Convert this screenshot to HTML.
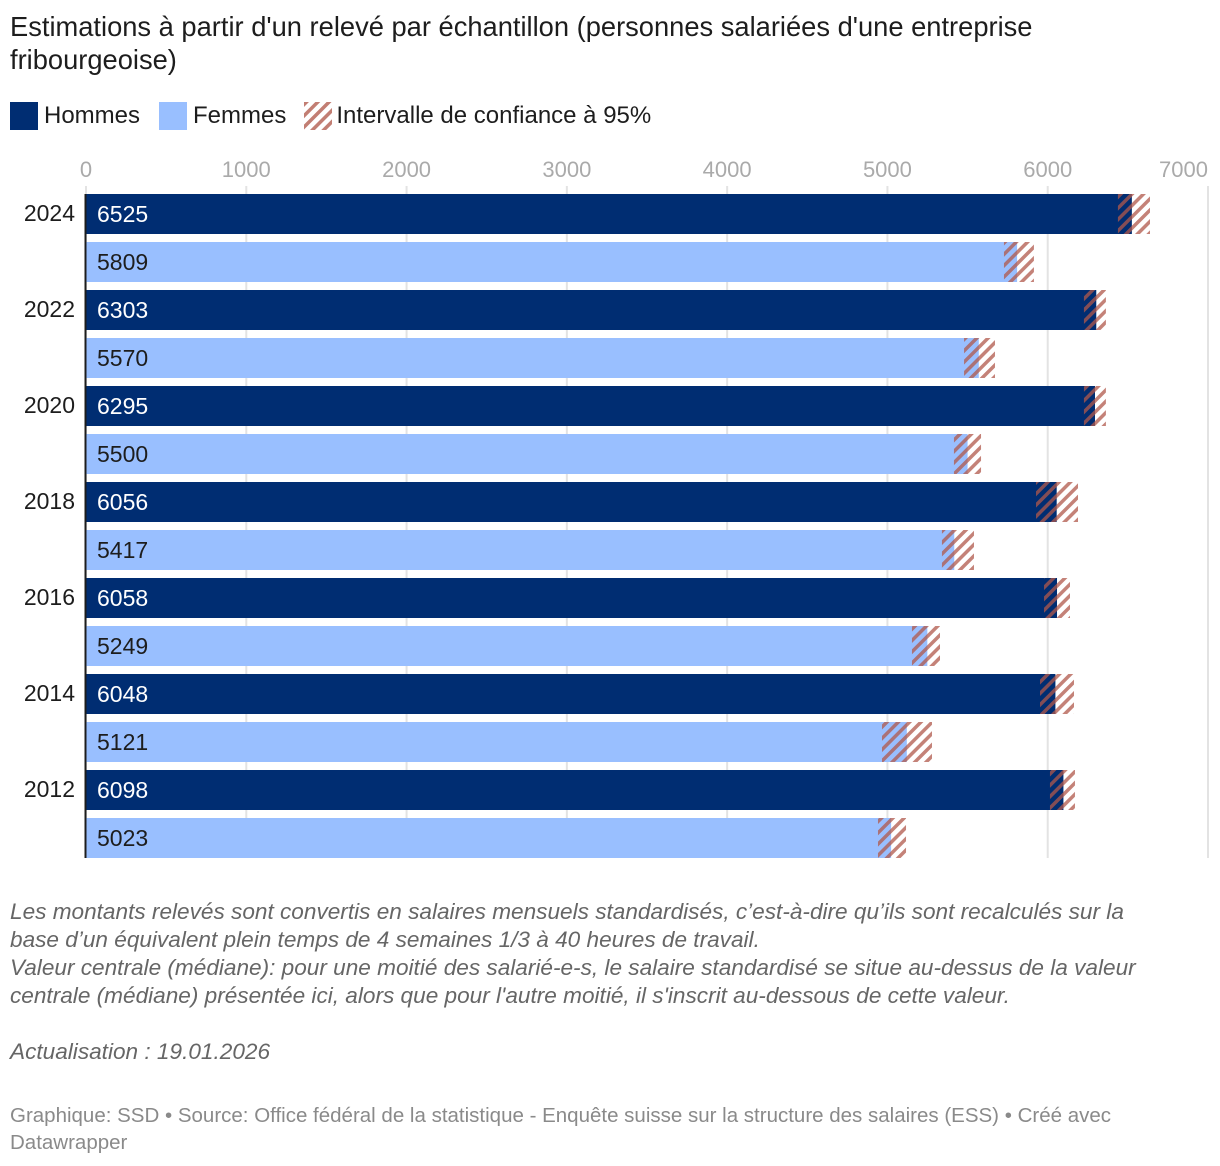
<!DOCTYPE html>
<html><head><meta charset="utf-8"><style>
body{margin:0;background:#fff;width:1220px;height:1166px;overflow:hidden;font-family:"Liberation Sans",Arial,sans-serif;}
.title{position:absolute;left:10px;top:10px;width:1100px;font-size:27.3px;line-height:33px;color:#1d1d1d;}
.legend{position:absolute;left:10px;top:102px;font-size:24px;color:#1d1d1d;display:flex;align-items:center;}
.sw{width:28px;height:28px;display:inline-block;margin-right:6px;}
.note{position:absolute;left:10px;top:898px;width:1160px;font-size:22.6px;line-height:28px;font-style:italic;color:#666;}
.foot{position:absolute;left:10px;top:1102px;width:1170px;font-size:20.5px;line-height:27px;color:#8a8a8a;}
</style></head><body>
<div class="title">Estimations à partir d'un relevé par échantillon (personnes salariées d'une entreprise fribourgeoise)</div>
<div class="legend">
<span class="sw" style="background:#002d72"></span><span style="margin-right:19px">Hommes</span>
<span class="sw" style="background:#99bfff"></span><span style="margin-right:18px">Femmes</span>
<svg width="28" height="28" style="margin-right:4px"><defs><pattern id="hl" width="8" height="8" patternUnits="userSpaceOnUse" patternTransform="rotate(45)"><rect width="3.5" height="8" fill="#b8685a" opacity="0.85"/></pattern></defs><rect width="28" height="28" fill="url(#hl)"/></svg><span>Intervalle de confiance à 95%</span>
</div>
<svg id="chart" width="1220" height="880" style="position:absolute;left:0;top:0">
<defs><pattern id="hatch" width="8" height="8" patternUnits="userSpaceOnUse" patternTransform="rotate(45)"><rect width="3.5" height="8" fill="#b0584a" opacity="0.75"/></pattern></defs>
</svg>
<div class="note">Les montants relevés sont convertis en salaires mensuels standardisés, c’est-à-dire qu’ils sont recalculés sur la base d’un équivalent plein temps de 4 semaines 1/3 à 40 heures de travail.<br>Valeur centrale (médiane): pour une moitié des salarié-e-s, le salaire standardisé se situe au-dessus de la valeur centrale (médiane) présentée ici, alors que pour l'autre moitié, il s'inscrit au-dessous de cette valeur.<br><br>Actualisation : 19.01.2026</div>
<div class="foot">Graphique: SSD • Source: Office fédéral de la statistique - Enquête suisse sur la structure des salaires (ESS) • Créé avec Datawrapper</div>
<script>
const years=["2024","2022","2020","2018","2016","2014","2012"];
const hommes=[6525,6303,6295,6056,6058,6048,6098];
const femmes=[5809,5570,5500,5417,5249,5121,5023];
const hommesLow=[6438,6226,6226,5927,5977,5952,6014];
const hommesHigh=[6638,6363,6363,6189,6139,6164,6170];
const femmesLow=[5727,5478,5415,5340,5153,4966,4941];
const femmesHigh=[5914,5671,5584,5540,5328,5278,5116];
const ticks=[0,1000,2000,3000,4000,5000,6000,7000];
const NS="http://www.w3.org/2000/svg",svg=document.getElementById('chart');
const x=v=>86+v*1122/7000;
const top0=194,step=48,bh=40;
function mk(t,a){const e=document.createElementNS(NS,t);for(const k in a)e.setAttribute(k,a[k]);svg.appendChild(e);return e;}
ticks.forEach(t=>{
 const g=mk('line',{x1:x(t),x2:x(t),y1:186,y2:858,stroke:'#e3e3e3','stroke-width':2});
 
 
 const last=t===ticks[ticks.length-1];
 const l=mk('text',{x:x(t),y:177,'text-anchor':last?'end':'middle','font-size':22,fill:'#aaa'});
 l.textContent=t;
 
 
});
years.forEach((yr,i)=>{
 [[hommes,hommesLow,hommesHigh,'#002d72','#fff','hommes'],[femmes,femmesLow,femmesHigh,'#99bfff','#1d1d1d','femmes']].forEach((s,j)=>{
  const y=top0+(i*2+j)*step;
  const b=mk('rect',{x:x(0),y:y,width:x(s[0][i])-x(0),height:bh,fill:s[3]});
  
  
  const c=mk('rect',{x:x(s[1][i]),y:y,width:x(s[2][i])-x(s[1][i]),height:bh,fill:'url(#hatch)'});
  
  
  const v=mk('text',{x:97,y:y+28,'font-size':23,fill:s[4]});
  v.textContent=s[0][i];
  
  
 });
 const yl=mk('text',{x:75,y:top0+i*2*step+27,'text-anchor':'end','font-size':23,fill:'#1d1d1d'});
 yl.textContent=yr;
 
 
});
const ax=mk('line',{x1:85.5,x2:85.5,y1:194,y2:858,stroke:'#1d1d1d','stroke-width':2});


</script>
</body></html>
